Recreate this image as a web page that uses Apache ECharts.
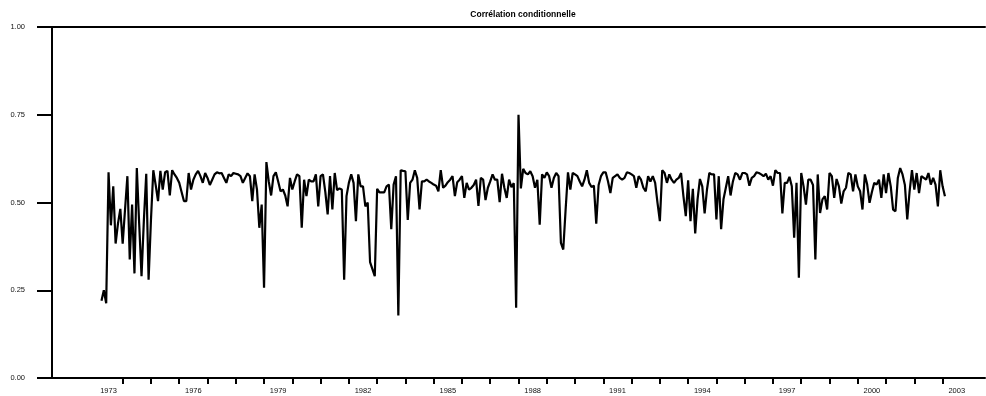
<!DOCTYPE html>
<html>
<head>
<meta charset="utf-8">
<script src="https://cdn.jsdelivr.net/npm/echarts@6/dist/echarts.min.js"></script>
<style>
  html, body { margin: 0; padding: 0; background: #fff; }
  #chart { width: 986px; height: 396px; }
</style>
</head>
<body>
<div id="chart"></div>
<script>
// Conditional correlation, monthly, from April 1973 to February 2003
const startYear = 1973;
const startMonth = 4;
const correlation = [
  0.22, 0.25, 0.213, 0.586, 0.435, 0.546, 0.383, 0.44, 0.482, 0.383,
  0.48, 0.575, 0.338, 0.494, 0.298, 0.598, 0.44, 0.29, 0.45, 0.582,
  0.28, 0.45, 0.592, 0.55, 0.504, 0.59, 0.537, 0.586, 0.59, 0.52,
  0.592, 0.58, 0.57, 0.556, 0.53, 0.504, 0.504, 0.584, 0.537, 0.565,
  0.58, 0.59, 0.575, 0.556, 0.584, 0.57, 0.55, 0.565, 0.58, 0.586,
  0.583, 0.584, 0.57, 0.556, 0.58, 0.575, 0.584, 0.582, 0.58, 0.575,
  0.556, 0.57, 0.583, 0.575, 0.504, 0.58, 0.537, 0.428, 0.494, 0.257,
  0.615, 0.56, 0.52, 0.575, 0.586, 0.56, 0.532, 0.537, 0.52, 0.489,
  0.57, 0.537, 0.56, 0.58, 0.575, 0.428, 0.565, 0.518, 0.565, 0.56,
  0.56, 0.58, 0.489, 0.575, 0.58, 0.53, 0.466, 0.575, 0.48, 0.584,
  0.535, 0.54, 0.537, 0.28, 0.518, 0.556, 0.58, 0.556, 0.447, 0.58,
  0.546, 0.546, 0.489, 0.5, 0.33, 0.31, 0.29, 0.539, 0.529, 0.529,
  0.529, 0.546, 0.551, 0.424, 0.551, 0.575, 0.178, 0.592, 0.59, 0.589,
  0.45, 0.556, 0.565, 0.592, 0.57, 0.48, 0.56, 0.56, 0.565, 0.56,
  0.556, 0.551, 0.548, 0.532, 0.592, 0.542, 0.548, 0.558, 0.565, 0.575,
  0.518, 0.558, 0.565, 0.575, 0.513, 0.556, 0.537, 0.542, 0.55, 0.565,
  0.49, 0.57, 0.565, 0.507, 0.542, 0.56, 0.58, 0.565, 0.565, 0.501,
  0.582, 0.542, 0.513, 0.565, 0.544, 0.555, 0.20, 0.75, 0.54, 0.596,
  0.584, 0.58, 0.589, 0.575, 0.542, 0.565, 0.437, 0.58, 0.57, 0.586,
  0.575, 0.542, 0.57, 0.584, 0.575, 0.385, 0.366, 0.48, 0.586, 0.537,
  0.584, 0.58, 0.575, 0.56, 0.546, 0.565, 0.592, 0.556, 0.544, 0.548,
  0.44, 0.55, 0.575, 0.586, 0.586, 0.56, 0.527, 0.57, 0.575, 0.58,
  0.57, 0.565, 0.57, 0.586, 0.584, 0.58, 0.575, 0.542, 0.575, 0.565,
  0.542, 0.532, 0.575, 0.56, 0.575, 0.556, 0.499, 0.447, 0.592, 0.584,
  0.556, 0.58, 0.565, 0.556, 0.565, 0.57, 0.584, 0.518, 0.461, 0.563,
  0.447, 0.539, 0.412, 0.509, 0.567, 0.546, 0.469, 0.537, 0.584, 0.58,
  0.58, 0.452, 0.575, 0.424, 0.509, 0.542, 0.575, 0.52, 0.56, 0.584,
  0.58, 0.565, 0.584, 0.584, 0.58, 0.548, 0.57, 0.575, 0.586, 0.584,
  0.58, 0.575, 0.582, 0.565, 0.575, 0.548, 0.592, 0.584, 0.584, 0.469,
  0.556, 0.556, 0.573, 0.546, 0.40, 0.556, 0.286, 0.584, 0.546, 0.494,
  0.565, 0.565, 0.55, 0.338, 0.58, 0.47, 0.509, 0.518, 0.48, 0.584,
  0.575, 0.513, 0.567, 0.546, 0.497, 0.532, 0.542, 0.584, 0.58, 0.532,
  0.58, 0.546, 0.532, 0.48, 0.58, 0.551, 0.499, 0.53, 0.556, 0.551,
  0.565, 0.513, 0.58, 0.527, 0.584, 0.546, 0.48, 0.475, 0.57, 0.598,
  0.58, 0.55, 0.452, 0.532, 0.592, 0.537, 0.584, 0.527, 0.575, 0.57,
  0.565, 0.584, 0.551, 0.57, 0.551, 0.489, 0.592, 0.546, 0.518
];

// Year boundaries carry ticks; year labels sit in the middle of their year
const tickYears = [];
for (let y = 1974; y <= 2003; y++) tickYears.push(y);
const labelYears = [1973, 1976, 1979, 1982, 1985, 1988, 1991, 1994, 1997, 2000, 2003];
const yTicks = [0, 0.25, 0.5, 0.75, 1];

const seriesData = correlation.map((v, i) => [startYear + (startMonth - 1 + i) / 12, v]);

const FONT = '"Liberation Sans", Arial, sans-serif';
const axisColor = '#000';

const chart = echarts.init(document.getElementById('chart'), null, { renderer: 'canvas' });
chart.setOption({
  animation: false,
  backgroundColor: '#fff',
  title: {
    text: 'Corrélation conditionnelle',
    left: 518, top: 5, textAlign: 'center',
    textStyle: { fontFamily: FONT, fontSize: 8.5, fontWeight: 'bold', color: '#000' }
  },
  grid: { left: 52, right: 1, top: 27, bottom: 18 },
  xAxis: [
    {
      type: 'value', min: 1971.5, max: 2004.5,
      axisLine: { show: true, lineStyle: { color: axisColor, width: 2 } },
      axisTick: { show: true, customValues: tickYears, length: 6, lineStyle: { color: axisColor, width: 2 } },
      axisLabel: {
        customValues: labelYears.map(y => y + 0.5),
        formatter: v => String(Math.floor(v)),
        fontFamily: FONT, fontSize: 7.5, color: '#111', margin: 9
      },
      splitLine: { show: false }
    },
    {
      type: 'value', min: 1971.5, max: 2004.5, position: 'top',
      axisLine: { show: true, lineStyle: { color: axisColor, width: 2 } },
      axisTick: { show: false }, axisLabel: { show: false }, splitLine: { show: false }
    }
  ],
  yAxis: {
    type: 'value', min: 0, max: 1, interval: 0.25,
    axisLine: { show: true, lineStyle: { color: axisColor, width: 2 } },
    axisTick: { show: true, length: 15, lineStyle: { color: axisColor, width: 2 } },
    axisLabel: {
      formatter: v => yTicks.includes(v) ? v.toFixed(2) : '',
      fontFamily: FONT, fontSize: 7.5, color: '#111', margin: 27
    },
    splitLine: { show: false }
  },
  series: [{
    type: 'line',
    data: seriesData,
    showSymbol: false,
    lineStyle: { color: '#000', width: 2.2 },
    itemStyle: { color: '#000' }
  }]
});
</script>
</body>
</html>
